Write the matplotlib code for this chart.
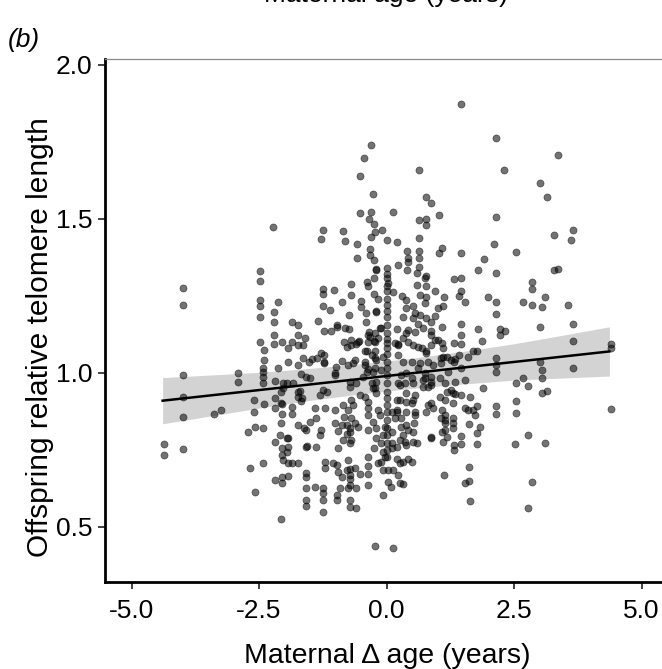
import matplotlib
matplotlib.use("Agg")
import matplotlib.pyplot as plt
import numpy as np

plt.rcParams["font.family"] = ["Liberation Sans", "DejaVu Sans"]

# (maternal delta age, offspring relative telomere length)
upper_left = [
    (-0.31, 1.741), (-0.45, 1.697), (-0.52, 1.638), (-0.26, 1.580), (-0.52, 1.520), (-0.31, 1.522),
    (-0.34, 1.500), (-0.24, 1.483), (-0.23, 1.457), (-2.22, 1.472), (-1.24, 1.462), (-1.29, 1.434),
    (-0.86, 1.460), (-0.81, 1.428), (-0.57, 1.418), (-0.57, 1.374), (-0.31, 1.440), (-0.33, 1.402),
    (-0.33, 1.381), (-0.24, 1.367), (-0.20, 1.335), (-0.24, 1.307), (-0.38, 1.293), (-0.36, 1.282),
    (-0.70, 1.289), (-0.70, 1.253), (-0.24, 1.255), (-0.16, 1.240), (-2.49, 1.331), (-2.49, 1.298),
    (-3.99, 1.275), (-3.99, 1.220), (-2.49, 1.237), (-2.49, 1.215), (-2.49, 1.180), (-2.12, 1.229),
    (-2.20, 1.196), (-2.20, 1.166), (-1.86, 1.166), (-1.73, 1.154), (-1.73, 1.123), (-1.60, 1.112),
    (-1.85, 1.101), (-2.05, 1.099), (-2.21, 1.121), (-2.21, 1.092), (-2.49, 1.101), (-1.24, 1.272),
    (-1.03, 1.270), (-1.24, 1.257), (-1.24, 1.215), (-1.10, 1.204), (-0.87, 1.229), (-0.73, 1.188),
    (-0.51, 1.233), (-0.51, 1.213), (-0.41, 1.193), (-0.20, 1.196), (-0.41, 1.166), (-1.35, 1.168),
    (-1.23, 1.136), (-0.97, 1.150), (-0.81, 1.144), (-0.73, 1.142), (-0.84, 1.101), (-0.70, 1.105),
    (-0.54, 1.103), (-0.60, 1.092), (-0.34, 1.131), (-0.33, 1.117), (-0.23, 1.101), (-0.13, 1.144),
    (-0.98, 1.155), (-0.69, 1.090), (-0.43, 1.069), (-0.29, 1.058), (-0.23, 1.047), (-0.36, 1.123),
    (-1.73, 1.090), (-1.93, 1.079), (-1.52, 1.036), (-1.37, 1.047), (-1.23, 1.058), (-1.23, 1.031),
    (-1.73, 1.025), (-1.57, 0.987),
]

upper_right = [
    (1.47, 1.874), (2.15, 1.763), (3.37, 1.706), (0.64, 1.660), (2.31, 1.657), (3.01, 1.617),
    (3.15, 1.570), (0.78, 1.572), (0.88, 1.550), (0.12, 1.523), (0.64, 1.497), (0.78, 1.498),
    (0.78, 1.480), (1.03, 1.511), (2.15, 1.507), (3.29, 1.446), (3.65, 1.463), (3.61, 1.430),
    (-0.08, 1.464), (0.00, 1.432), (0.20, 1.424), (0.64, 1.436), (0.40, 1.396), (0.43, 1.372),
    (0.64, 1.396), (0.64, 1.372), (1.08, 1.405), (1.03, 1.389), (1.47, 1.389), (2.11, 1.417),
    (2.54, 1.392), (1.92, 1.369), (1.79, 1.333), (2.15, 1.323), (1.32, 1.305), (1.47, 1.307),
    (2.85, 1.295), (2.85, 1.271), (3.29, 1.334), (3.37, 1.337), (3.10, 1.245), (2.68, 1.228),
    (2.85, 1.220), (3.04, 1.212), (3.56, 1.220), (1.99, 1.245), (2.15, 1.231), (2.15, 1.191),
    (1.47, 1.264), (1.43, 1.248), (1.54, 1.228), (1.12, 1.245), (0.95, 1.266), (1.11, 1.215),
    (1.01, 1.211), (0.78, 1.245), (0.75, 1.226), (0.65, 1.253), (0.59, 1.285), (0.75, 1.307),
    (0.78, 1.315), (0.59, 1.323), (0.64, 1.342), (0.22, 1.350), (0.40, 1.334), (0.00, 1.340),
    (-0.20, 1.336), (0.00, 1.307), (0.03, 1.291), (0.00, 1.264), (0.12, 1.262), (0.31, 1.248),
    (0.39, 1.237), (0.52, 1.217), (0.56, 1.193), (0.39, 1.210), (-0.20, 1.199), (0.00, 1.220),
    (0.00, 1.200), (0.00, 1.180), (0.00, 1.155), (-0.10, 1.144), (0.20, 1.141), (0.39, 1.128),
    (0.62, 1.157), (0.65, 1.188), (0.78, 1.177), (0.88, 1.166), (0.95, 1.184), (0.88, 1.134),
    (0.95, 1.106), (1.08, 1.150), (1.08, 1.096), (1.47, 1.157), (1.47, 1.121), (1.47, 1.092),
    (1.79, 1.141), (1.88, 1.103), (2.23, 1.141), (2.23, 1.123), (2.32, 1.136), (3.01, 1.150),
    (3.65, 1.158), (3.65, 1.103), (4.40, 1.092), (0.42, 1.101), (0.22, 1.092), (-0.24, 1.104),
    (0.42, 1.361), (0.78, 1.280), (0.33, 1.182), (0.52, 1.177), (0.42, 1.138), (0.55, 1.133),
    (0.72, 1.144), (0.88, 1.123), (0.00, 1.320), (0.00, 1.280), (0.00, 1.240), (0.00, 1.130),
    (0.00, 1.110), (0.00, 1.060), (0.23, 1.090), (0.33, 1.112), (0.52, 1.090), (0.62, 1.085),
    (0.78, 1.069), (0.88, 1.090),
]

lower_left = [
    (-2.40, 1.074), (-1.64, 1.090), (-1.08, 1.136), (-0.78, 1.085), (-0.56, 1.099), (-0.36, 1.101),
    (-0.39, 1.071), (-0.16, 1.112), (-2.40, 1.041), (-2.42, 1.014), (-2.42, 1.003), (-2.12, 1.014),
    (-1.93, 1.036), (-1.63, 1.047), (-1.47, 1.045), (-1.29, 1.065), (-1.22, 1.036), (-0.99, 1.017),
    (-0.88, 1.038), (-0.75, 1.025), (-0.62, 1.041), (-0.43, 1.025), (-0.36, 1.012), (-1.67, 0.995),
    (-1.50, 0.984), (-2.92, 0.998), (-2.92, 0.969), (-3.99, 0.991), (-3.99, 0.920), (-3.99, 0.857),
    (-3.99, 0.752), (-4.36, 0.769), (-4.36, 0.732), (-3.38, 0.865), (-3.25, 0.878), (-2.60, 0.910),
    (-2.60, 0.873), (-2.40, 0.898), (-2.19, 0.973), (-2.03, 0.966), (-1.83, 0.966), (-2.19, 0.917),
    (-2.19, 0.884), (-2.05, 0.897), (-2.05, 0.865), (-1.86, 0.890), (-1.86, 0.865), (-1.73, 0.938),
    (-1.65, 0.917), (-1.67, 0.908), (-1.41, 0.884), (-1.31, 0.928), (-1.24, 0.944), (-1.21, 0.884),
    (-1.01, 0.879), (-0.85, 0.895), (-0.83, 0.857), (-0.72, 0.955), (-0.69, 0.911), (-0.69, 0.852),
    (-0.52, 0.928), (-0.36, 0.906), (-0.36, 0.884), (-0.36, 0.863), (-0.26, 0.841), (-0.55, 0.825),
    (-0.72, 0.821), (-0.88, 0.830), (-0.78, 0.800), (-0.96, 0.810), (-1.01, 0.835), (-1.50, 0.841),
    (-1.62, 0.819), (-1.73, 0.830), (-1.29, 0.814), (-1.31, 0.798), (-2.71, 0.806), (-2.57, 0.822),
    (-2.42, 0.821), (-2.19, 0.776), (-2.09, 0.798), (-1.95, 0.789), (-2.04, 0.754), (-1.96, 0.743),
    (-2.05, 0.732), (-2.03, 0.716), (-1.86, 0.705), (-1.93, 0.705), (-1.73, 0.705), (-1.57, 0.760),
    (-1.39, 0.757), (-1.57, 0.673), (-1.57, 0.662), (-1.57, 0.626), (-1.41, 0.629), (-1.57, 0.586),
    (-1.57, 0.568), (-1.21, 0.709), (-1.21, 0.691), (-1.05, 0.705), (-0.97, 0.700), (-0.96, 0.676),
    (-0.75, 0.716), (-0.72, 0.687), (-0.72, 0.656), (-0.72, 0.635), (-0.62, 0.689), (-0.52, 0.671),
    (-0.36, 0.697), (-0.36, 0.671), (-0.36, 0.635), (-0.16, 0.705), (-1.24, 0.624), (-1.24, 0.608),
    (-1.24, 0.586), (-1.24, 0.548), (-0.98, 0.602), (-0.98, 0.586), (-0.72, 0.586), (-0.72, 0.564),
    (-0.59, 0.559), (-0.75, 0.624), (-0.59, 0.624), (-2.06, 0.526), (-2.57, 0.611), (-2.68, 0.691),
    (-2.42, 0.705), (-0.23, 0.436),
    (-2.42, 0.987), (-2.42, 0.966), (-1.96, 0.966), (-2.06, 0.938), (-2.03, 0.949), (-1.70, 0.941),
    (-1.73, 0.922), (-1.16, 0.936), (-2.06, 0.900), (-2.06, 0.835), (-1.39, 0.854), (-1.57, 0.814),
    (-1.93, 0.787), (-1.93, 0.757), (-1.55, 0.763), (-1.93, 0.665), (-2.05, 0.660), (-2.19, 0.651),
    (-2.05, 0.640),
]

lower_right = [
    (4.40, 1.080), (3.65, 1.014), (4.40, 0.883), (3.01, 1.036), (3.04, 1.009), (3.04, 0.982),
    (3.14, 0.942), (3.04, 0.933), (2.78, 0.957), (2.68, 0.982), (2.53, 0.968), (2.53, 0.908),
    (2.53, 0.868), (2.52, 0.768), (2.78, 0.797), (3.10, 0.771), (2.86, 0.645), (2.78, 0.561),
    (2.15, 1.047), (2.15, 1.025), (2.15, 1.003), (2.15, 0.893), (2.15, 0.865), (1.90, 0.949),
    (1.70, 1.069), (1.78, 1.069), (1.60, 1.052), (1.47, 1.014), (1.54, 0.976), (1.47, 0.928),
    (1.63, 0.922), (1.54, 0.884), (1.60, 0.879), (1.78, 0.893), (1.73, 0.861), (1.61, 0.833),
    (1.83, 0.822), (1.77, 0.803), (1.77, 0.768), (1.47, 0.795), (1.47, 0.768), (1.62, 0.692),
    (1.62, 0.649), (1.54, 0.643), (1.64, 0.584), (1.13, 0.667), (1.31, 0.933), (1.31, 0.900),
    (1.27, 0.944), (1.27, 1.041), (1.42, 1.058), (1.06, 1.047), (1.06, 1.031), (1.05, 0.984),
    (0.88, 0.960), (1.05, 0.922), (0.88, 0.900), (0.92, 0.884), (1.08, 0.879), (1.14, 0.861),
    (1.06, 0.852), (1.14, 0.835), (1.31, 0.854), (1.31, 0.835), (1.31, 0.819), (1.08, 0.808),
    (1.18, 0.792), (1.10, 0.776), (0.87, 0.792), (1.33, 0.765), (1.33, 0.749), (0.72, 0.955),
    (0.56, 0.928), (0.56, 0.873), (0.56, 0.863), (0.54, 0.835), (0.39, 0.830), (0.29, 0.825),
    (0.43, 0.814), (0.52, 0.808), (0.36, 0.776), (0.59, 0.770), (0.43, 0.721), (0.49, 0.711),
    (0.26, 0.705), (0.23, 0.667), (0.26, 0.640), (0.33, 0.637), (0.03, 0.646), (0.08, 0.630),
    (-0.07, 0.602), (-0.07, 0.684), (0.03, 0.684), (0.13, 0.684), (0.13, 0.432),
    (1.34, 1.045), (1.33, 1.034), (1.11, 1.052), (1.34, 0.969), (1.14, 0.966), (1.18, 0.938),
    (1.34, 0.930), (1.14, 0.911), (1.70, 0.879), (1.14, 0.847), (1.14, 0.814),
]

centre = [
    (-0.75, 0.879), (-0.65, 0.895), (-0.62, 0.835), (-0.78, 0.830), (-0.72, 0.808), (-0.69, 0.781),
    (-0.85, 0.781), (-0.95, 0.754), (-0.72, 0.770), (-0.78, 0.684), (-0.72, 0.667), (-0.88, 0.662),
    (-0.37, 0.727), (-0.92, 0.626), (-0.23, 0.949), (-0.43, 0.922), (-0.13, 0.863), (-0.20, 0.819),
    (-0.36, 0.814), (-0.20, 0.787), (-0.10, 0.770), (-0.07, 0.743), (-0.03, 0.727), (-0.10, 0.711),
    (0.20, 0.721), (0.33, 0.711), (0.10, 0.873), (0.20, 0.873), (0.29, 0.852), (0.39, 0.873),
    (0.33, 0.798), (0.26, 0.781), (0.39, 0.765), (0.52, 0.776), (0.10, 0.754), (-0.07, 0.798),
    (-0.03, 0.825), (0.39, 0.906), (0.26, 0.911), (0.52, 0.911), (0.39, 0.933), (0.52, 0.966),
    (0.82, 0.955), (0.78, 0.873), (0.88, 0.787), (0.82, 0.895), (-1.01, 0.993), (-0.72, 0.971),
    (-0.59, 0.966), (-0.46, 0.987), (-0.39, 1.003), (-0.29, 0.966), (-0.20, 0.971), (0.23, 0.966),
    (0.29, 0.993), (0.49, 0.982), (0.75, 0.982), (0.88, 0.971),
    (-0.23, 1.128), (-0.23, 1.069), (-0.20, 1.041), (-0.07, 1.052), (0.00, 1.096), (0.00, 1.079),
    (0.00, 1.036), (0.00, 1.014), (0.00, 0.993), (0.00, 0.966), (0.00, 0.938), (0.00, 0.917),
    (0.00, 0.895), (0.00, 0.873), (0.00, 0.846), (0.00, 0.819), (0.00, 0.798), (0.00, 0.770),
    (0.00, 0.749), (0.00, 0.727), (-0.26, 1.003), (-0.26, 0.949), (-0.20, 0.933), (-0.16, 0.879),
    (-0.24, 0.754), (0.16, 1.096), (0.23, 1.058), (0.39, 0.998), (0.26, 0.960), (0.36, 0.966),
    (0.49, 0.900), (0.20, 0.911), (0.20, 0.879), (0.16, 0.852), (0.10, 0.808), (0.10, 0.770),
    (0.20, 0.760), (0.69, 1.079), (0.78, 1.063), (0.62, 1.014), (0.75, 0.998), (0.72, 0.976),
    (0.88, 0.987), (0.91, 1.025), (1.21, 1.003), (1.18, 1.052), (1.11, 1.079), (1.33, 1.096),
    (1.01, 1.106), (0.33, 1.036), (0.49, 1.036), (0.65, 1.031), (0.82, 1.036), (-0.23, 1.014),
    (-0.10, 1.009), (-0.43, 1.036), (-0.65, 1.031), (-1.01, 0.998),
]

# fitted line and its confidence band
fit_age = [-4.39, 4.37]
fit_rtl = [0.909, 1.069]
band_age = [-4.39, -3.5, -2.5, -1.5, -0.5, 0.5, 1.5, 2.5, 3.5, 4.37]
band_low = [0.834, 0.858, 0.885, 0.910, 0.931, 0.949, 0.963, 0.976, 0.983, 0.989]
band_high = [0.984, 0.992, 1.001, 1.014, 1.029, 1.047, 1.069, 1.094, 1.123, 1.149]

x_ticks = [-5.0, -2.5, 0.0, 2.5, 5.0]
y_ticks = [0.5, 1.0, 1.5, 2.0]

points = np.array(upper_left + upper_right + lower_left + lower_right + centre)

W, H = 662, 669
fig = plt.figure(figsize=(W / 100, H / 100), dpi=100)
ax = fig.add_axes([105 / W, (H - 582) / H, (666 - 105) / W, (582 - 59) / H])

ax.fill_between(band_age, band_low, band_high, color="#d3d3d3", lw=0, zorder=1)
ax.scatter(points[:, 0], points[:, 1], s=26, c="black", alpha=0.55,
           edgecolors="black", linewidths=0.5, zorder=2)
ax.plot(fit_age, fit_rtl, color="black", lw=1.8, zorder=3)

ax.set_xlim(-5.52, 5.48)
ax.set_ylim(0.320, 2.019)
ax.set_xticks(x_ticks, [f"{v:.1f}" for v in x_ticks])
ax.set_yticks(y_ticks, [f"{v:.1f}" for v in y_ticks])

for side in ("left", "bottom"):
    ax.spines[side].set_linewidth(2.0)
    ax.spines[side].set_color("black")
for side in ("top", "right"):
    ax.spines[side].set_linewidth(0.9)
    ax.spines[side].set_color("#8a8a8a")
ax.tick_params(length=5, width=1.3, color="#333333", labelsize=19, labelcolor="black")
ax.tick_params(axis="x", pad=7.5)
ax.tick_params(axis="y", pad=4)

ax.set_xlabel("Maternal \u0394 age (years)", fontsize=20.5, va="baseline")
ax.set_ylabel("Offspring relative telomere length", fontsize=21.5)
ax.xaxis.set_label_coords(387 / W, 1 - 663 / H, transform=fig.transFigure)
ax.yaxis.set_label_coords(54 / W, 1 - 337 / H, transform=fig.transFigure)

fig.text(8 / W, 1 - 40 / H, "(b)", fontsize=19, style="italic", ha="left", va="center")
# bottom edge of the panel above, cut off by the crop
fig.text(386 / W, 1 - 2 / H, "Maternal age (years)", fontsize=19, ha="center", va="baseline")

fig.savefig("out.png", dpi=100)
